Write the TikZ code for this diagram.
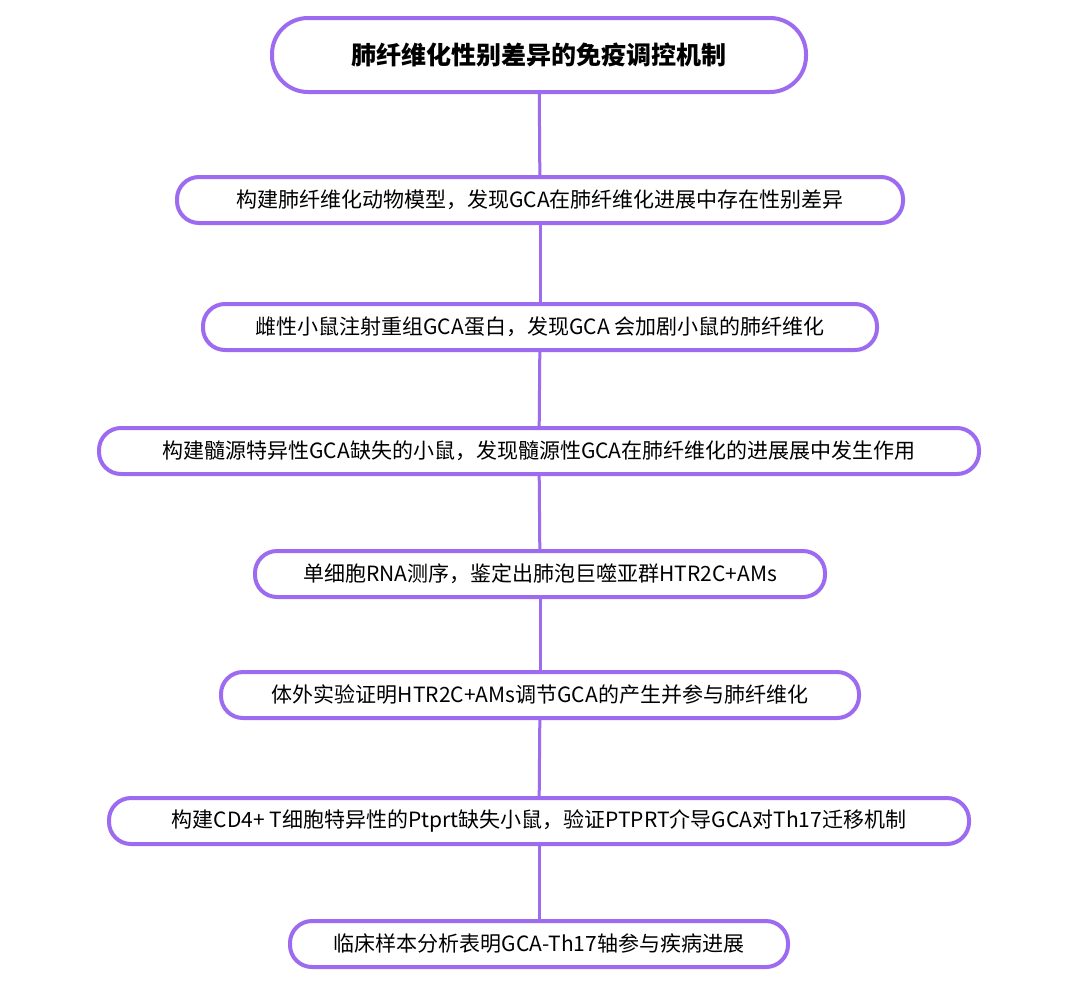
\documentclass[tikz,border=0pt]{standalone}
\usepackage{fontspec}
\setmainfont{Noto Sans CJK SC}
\definecolor{lila}{HTML}{9D6BF0}
\tikzset{
  stepbox/.style={draw=lila, line width=2pt, rounded corners=11pt, fill=white,
    minimum height=23pt, inner xsep=0pt, font=\fontsize{10.5}{12}\selectfont},
  titlebox/.style={draw=lila, line width=2pt, rounded corners=18pt, fill=white,
    minimum height=37pt, inner xsep=0pt, font=\fontsize{12.5}{14}\selectfont\bfseries},
  link/.style={draw=lila, line width=1.5pt}
}
\begin{document}
\begin{tikzpicture}[x=0.5pt,y=-0.5pt]
\useasboundingbox[fill=white] (0,0) rectangle (1080,991);

\node[titlebox, minimum width=267pt] (title) at (539,55) {肺纤维化性别差异的免疫调控机制};
\node[stepbox, minimum width=363pt] (s1) at (540,200) {构建肺纤维化动物模型，发现GCA在肺纤维化进展中存在性别差异};
\node[stepbox, minimum width=337pt] (s2) at (540,327) {雌性小鼠注射重组GCA蛋白，发现GCA 会加剧小鼠的肺纤维化};
\node[stepbox, minimum width=440pt] (s3) at (539,451) {构建髓源特异性GCA缺失的小鼠，发现髓源性GCA在肺纤维化的进展展中发生作用};
\node[stepbox, minimum width=285pt] (s4) at (540,574) {单细胞RNA测序，鉴定出肺泡巨噬亚群HTR2C+AMs};
\node[stepbox, minimum width=319pt] (s5) at (540,695) {体外实验证明HTR2C+AMs调节GCA的产生并参与肺纤维化};
\node[stepbox, minimum width=430pt] (s6) at (539,821) {构建CD4+ T细胞特异性的Ptprt缺失小鼠，验证PTPRT介导GCA对Th17迁移机制};
\node[stepbox, minimum width=249pt] (s7) at (539,944) {临床样本分析表明GCA-Th17轴参与疾病进展};

\draw[link] (title) -- (s1);
\draw[link] (s1) -- (s2);
\draw[link] (s2) -- (s3);
\draw[link] (s3) -- (s4);
\draw[link] (s4) -- (s5);
\draw[link] (s5) -- (s6);
\draw[link] (s6) -- (s7);
\end{tikzpicture}
\end{document}
